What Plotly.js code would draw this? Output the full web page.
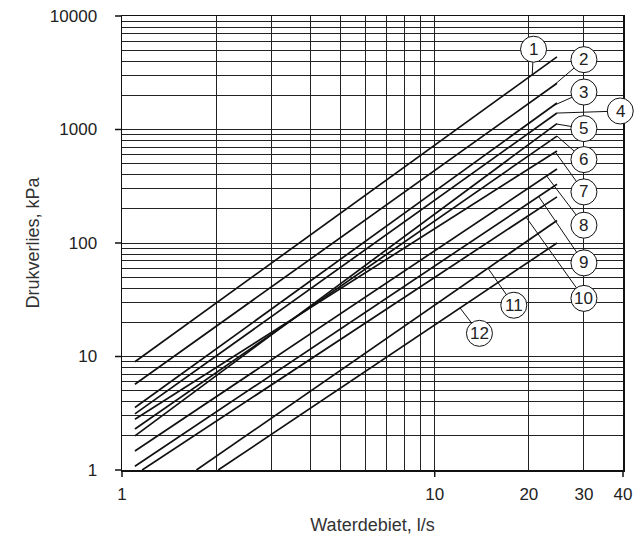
<!DOCTYPE html>
<html><head><meta charset="utf-8">
<script src="https://cdn.plot.ly/plotly-3.0.1.min.js"></script>
<style>html,body{margin:0;padding:0;background:#fff}#chart{width:635px;height:546px}</style>
</head><body><div id="chart"></div>
<script>
// ---- data ----
const lineNames = ['1','2','3','4','5','6','7','8','9','10','11','12'];
const startFlow = [1.10, 1.10, 1.10, 1.10, 1.10, 1.10, 1.10, 1.10, 1.10, 1.16, 1.73, 2.03];
const startDrop = [9.0, 5.7, 3.55, 3.12, 2.00, 2.30, 2.80, 1.47, 1.08, 1, 1, 1];
const endFlow   = [24.6, 24.6, 24.6, 24.6, 24.6, 24.6, 24.6, 24.6, 24.6, 24.6, 24.6, 24.6];
const endDrop   = [4365, 2553, 1710, 1396, 1128, 875, 647, 448, 329, 255, 158, 100];

// label circles (flow, drop) and the flow where each leader meets its line
const labelFlow = [20.7, 30, 30, 39.2, 30, 30, 30, 30, 30, 30, 17.9, 13.9];
const labelDrop = [5100, 4125, 2138, 1455, 1018, 543, 282, 143.5, 66.8, 32.5, 28.3, 16.0];
const leaderFlow = [20.5, 23.7, 24.0, 24.6, 24.5, 24.6, 24.3, 22.8, 21.5, 19.6, 14.8, 12.05];

const xTickVals = [1,2,3,4,5,6,7,8,9,10,20,30,40];
const xTickText = ['1','','','','','','','','','10','20','30','40'];
const yDecades = [1,10,100,1000,10000];

// ---- build ----
const XMAX = 40, YMAX = 10000;
const L10 = Math.log10;
const px = v => L10(v)/L10(XMAX);
const py = v => L10(v)/L10(YMAX);
const FONT = 'Liberation Sans, Arial, sans-serif';

const yTickVals = [], yTickText = [];
yDecades.forEach((d,i) => {
  if (i < yDecades.length-1) {
    for (let k=1;k<=9;k++){ yTickVals.push(d*k); yTickText.push(k===1? String(d):''); }
  } else { yTickVals.push(d); yTickText.push(String(d)); }
});

const traces = lineNames.map((n,i) => ({
  type:'scatter', mode:'lines', name:n,
  x:[startFlow[i], endFlow[i]], y:[startDrop[i], endDrop[i]],
  line:{color:'#111', width:1.7}, hoverinfo:'skip', showlegend:false
}));

function dropAt(i, f){
  const t = (L10(f)-L10(startFlow[i]))/(L10(endFlow[i])-L10(startFlow[i]));
  return Math.pow(10, L10(startDrop[i]) + t*(L10(endDrop[i])-L10(startDrop[i])));
}

const shapes = [];
lineNames.forEach((n,i)=>{
  shapes.push({type:'line', xref:'paper', yref:'paper',
    x0:px(leaderFlow[i]), y0:py(dropAt(i, leaderFlow[i])),
    x1:px(labelFlow[i]), y1:py(labelDrop[i]),
    line:{color:'#111', width:1}});
});
lineNames.forEach((n,i)=>{
  shapes.push({type:'circle', xref:'paper', yref:'paper',
    xsizemode:'pixel', ysizemode:'pixel',
    xanchor:px(labelFlow[i]), yanchor:py(labelDrop[i]),
    x0:-13, x1:13, y0:-13, y1:13,
    fillcolor:'#fff', line:{color:'#111', width:1}});
});
yDecades.forEach(d=>{
  shapes.push({type:'line', xref:'paper', yref:'paper', xsizemode:'pixel', xanchor:0,
    x0:-7, x1:0, y0:py(d), y1:py(d), line:{color:'#111', width:1.5}});
});
[1,10,40].forEach(v=>{
  shapes.push({type:'line', xref:'paper', yref:'paper', ysizemode:'pixel', yanchor:0,
    x0:px(v), x1:px(v), y0:0, y1:-7, line:{color:'#111', width:1.5}});
});

const annotations = lineNames.map((n,i)=>({
  xref:'paper', yref:'paper', x:px(labelFlow[i]), y:py(labelDrop[i]),
  text:n, showarrow:false, xanchor:'center', yanchor:'middle',
  font:{family:FONT, size:17, color:'#222'}
}));

const layout = {
  width:635, height:546,
  margin:{l:122, r:12, t:16, b:76},
  paper_bgcolor:'#fff', plot_bgcolor:'#fff',
  font:{family:FONT, size:17, color:'#222'},
  showlegend:false,
  xaxis:{type:'log', range:[0, L10(XMAX)], tickmode:'array', tickvals:xTickVals, ticktext:xTickText,
    ticks:'', showgrid:true, gridcolor:'#222', gridwidth:1, zeroline:false,
    showline:true, linecolor:'#111', linewidth:1.5, mirror:true,
    ticklabelstandoff:8,
    title:{text:'Waterdebiet, l/s', font:{size:18, color:'#333'}, standoff:15}},
  yaxis:{type:'log', range:[0, L10(YMAX)], tickmode:'array', tickvals:yTickVals, ticktext:yTickText,
    ticks:'', showgrid:true, gridcolor:'#222', gridwidth:1, zeroline:false,
    showline:true, linecolor:'#111', linewidth:1.5, mirror:true,
    ticklabelstandoff:20,
    title:{text:'Drukverlies, kPa', font:{size:18, color:'#333'}, standoff:5}},
  shapes:shapes, annotations:annotations
};

Plotly.newPlot('chart', traces, layout, {displayModeBar:false, staticPlot:true});
</script></body></html>
